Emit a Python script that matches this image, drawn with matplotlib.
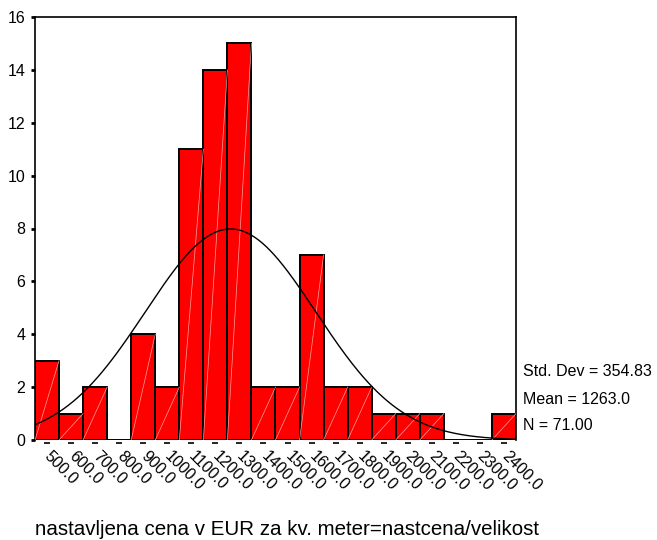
import numpy as np
import matplotlib
matplotlib.use("Agg")
import matplotlib.pyplot as plt

# bin centres (EUR per m2) and counts
bin_centers = [500, 600, 700, 800, 900, 1000, 1100, 1200, 1300, 1400,
               1500, 1600, 1700, 1800, 1900, 2000, 2100, 2200, 2300, 2400]
counts = [3, 1, 2, 0, 4, 2, 11, 14, 15, 2, 2, 7, 2, 2, 1, 1, 1, 0, 0, 1]
bin_width = 100
std_dev = 354.83
mean = 1263.0
n_cases = 71
x_title = "nastavljena cena v EUR za kv. meter=nastcena/velikost"

plt.rcParams["font.family"] = ["Liberation Sans", "DejaVu Sans"]

fig = plt.figure(figsize=(6.57, 5.40), dpi=100)
ax = fig.add_axes([35 / 657, 1 - 440 / 540, (516 - 35) / 657, (440 - 17) / 540])

ax.bar(bin_centers, counts, width=bin_width, color="#ff0000",
       edgecolor="black", linewidth=1.4, zorder=2)

# faint SPSS-style diagonal inside each bar
for c, h in zip(bin_centers, counts):
    if h > 0:
        ax.plot([c - bin_width / 2, c + bin_width / 2], [0, h],
                color="#ffa0a0", linewidth=0.5, zorder=3)

# normal curve scaled to the histogram
lo = bin_centers[0] - bin_width / 2
hi = bin_centers[-1] + bin_width / 2
xs = np.linspace(lo, hi, 400)
ys = n_cases * bin_width / (std_dev * np.sqrt(2 * np.pi)) * np.exp(-0.5 * ((xs - mean) / std_dev) ** 2)
ax.plot(xs, ys, color="black", linewidth=1.0, zorder=4)

ax.set_xlim(lo, hi)
ax.set_ylim(0, 16)
ax.spines["bottom"].set_visible(False)
for s in ("top", "left", "right"):
    ax.spines[s].set_linewidth(1.2)

ax.set_yticks(range(0, 17, 2))
ax.tick_params(axis="y", direction="out", length=3, width=2, labelsize=11.5, pad=4)

# x tick labels rotated down-right under each bin, dashes as tick marks
ax.set_xticks(bin_centers)
ax.set_xticklabels([f"{c:.1f}" for c in bin_centers], rotation=-45,
                   ha="left", va="center", rotation_mode="anchor", fontsize=11.5)
ax.tick_params(axis="x", length=0, pad=10)
ax.plot(bin_centers, [-0.12] * len(bin_centers), linestyle="none", marker="_",
        markersize=5, markeredgewidth=1.2, color="black", clip_on=False)

# summary statistics at the right
stats = [f"Std. Dev = {std_dev:.2f}", f"Mean = {mean:.1f}", f"N = {n_cases:.2f}"]
for i, s in enumerate(stats):
    fig.text(523 / 657, 1 - (372 + 27 * i) / 540, s, fontsize=11.5, va="center", ha="left")

fig.text(35 / 657, 1 - 535 / 540, x_title, fontsize=14.8, ha="left", va="baseline")

fig.savefig("out.png", dpi=100)
